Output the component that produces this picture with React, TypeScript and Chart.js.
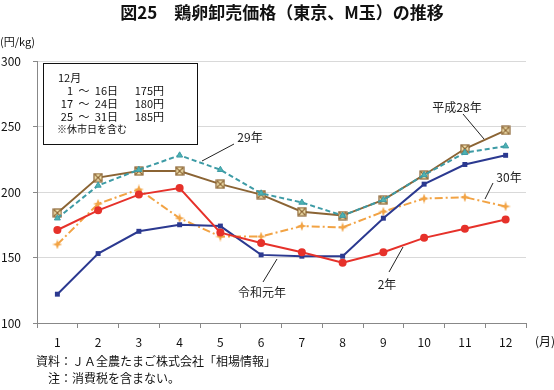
import React, { useEffect, useRef } from "react";
import { Chart, registerables } from "chart.js";
Chart.register(...registerables);

const months = ["1", "2", "3", "4", "5", "6", "7", "8", "9", "10", "11", "12"];
const h28 = [184, 211, 216, 216, 206, 198, 185, 182, 194, 213, 233, 247];
const h29 = [180, 205, 217, 228, 217, 199, 192, 182, 194, 213, 230, 235];
const h30 = [160, 191, 202, 180, 166, 166, 174, 173, 185, 195, 196, 189];
const r1 = [122, 153, 170, 175, 174, 152, 151, 151, 180, 206, 221, 228];
const r2 = [171, 186, 198, 203, 169, 161, 154, 146, 154, 165, 172, 179];
const yTicks = [100, 150, 200, 250, 300];

const FONT = '"Noto Sans CJK JP", "Noto Sans", sans-serif';

function makeXBox(): HTMLCanvasElement {
  const c = document.createElement("canvas");
  c.width = 10;
  c.height = 10;
  const g = c.getContext("2d")!;
  g.fillStyle = "#f7e9b5";
  g.fillRect(1, 1, 8, 8);
  g.strokeStyle = "#8b6434";
  g.lineWidth = 1.2;
  g.strokeRect(1, 1, 8, 8);
  g.beginPath();
  g.moveTo(1.5, 1.5);
  g.lineTo(8.5, 8.5);
  g.moveTo(8.5, 1.5);
  g.lineTo(1.5, 8.5);
  g.stroke();
  return c;
}

function makePlus(): HTMLCanvasElement {
  const c = document.createElement("canvas");
  c.width = 10;
  c.height = 10;
  const g = c.getContext("2d")!;
  g.fillStyle = "#f2a344";
  g.beginPath();
  g.moveTo(5, 0);
  g.lineTo(6.3, 3.7);
  g.lineTo(10, 5);
  g.lineTo(6.3, 6.3);
  g.lineTo(5, 10);
  g.lineTo(3.7, 6.3);
  g.lineTo(0, 5);
  g.lineTo(3.7, 3.7);
  g.closePath();
  g.fill();
  return c;
}

const overlay = {
  id: "overlay",
  afterDraw(chart: any) {
    const ctx = chart.ctx as CanvasRenderingContext2D;
    ctx.save();
    // title
    ctx.fillStyle = "#111";
    ctx.textBaseline = "middle";
    ctx.textAlign = "center";
    ctx.font = `bold 17px ${FONT}`;
    ctx.fillText("図25　鶏卵卸売価格（東京、M玉）の推移", 282, 13);
    // y unit
    ctx.textAlign = "left";
    ctx.font = `11px ${FONT}`;
    ctx.fillText("(円/kg)", 0, 42);
    // x unit
    ctx.font = `12px ${FONT}`;
    ctx.fillText("(月)", 535, 341);
    // source
    ctx.fillText("資料：ＪＡ全農たまご株式会社「相場情報」", 36, 361);
    ctx.fillText("注：消費税を含まない。", 48, 378);

    // box
    ctx.fillStyle = "#fff";
    ctx.fillRect(43, 63, 154, 81);
    ctx.strokeStyle = "#111";
    ctx.lineWidth = 1;
    ctx.strokeRect(43.5, 63.5, 154, 81);
    ctx.fillStyle = "#111";
    ctx.font = `11px ${FONT}`;
    ctx.textAlign = "left";
    ctx.fillText("12月", 58, 78);
    const rows = [
      ["1", "16日", "175円", 91],
      ["17", "24日", "180円", 104],
      ["25", "31日", "185円", 117],
    ];
    rows.forEach((r) => {
      ctx.textAlign = "right";
      ctx.fillText(r[0] as string, 73, r[3] as number);
      ctx.textAlign = "center";
      ctx.fillText("～", 84, r[3] as number);
      ctx.textAlign = "right";
      ctx.fillText(r[1] as string, 118, r[3] as number);
      ctx.fillText(r[2] as string, 164, r[3] as number);
    });
    ctx.textAlign = "left";
    ctx.font = `10px ${FONT}`;
    ctx.fillText("※休市日を含む", 57, 129);

    // annotations
    const lines = [
      [463, 114, 484, 139],
      [234, 144, 202, 161],
      [493, 183, 485, 199],
      [277, 259, 263, 282],
      [403, 247, 389, 272],
    ];
    ctx.strokeStyle = "#222";
    ctx.lineWidth = 1;
    ctx.beginPath();
    lines.forEach((l) => {
      ctx.moveTo(l[0], l[1]);
      ctx.lineTo(l[2], l[3]);
    });
    ctx.stroke();
    ctx.font = `12px ${FONT}`;
    ctx.textAlign = "center";
    ctx.fillStyle = "#222";
    ctx.fillText("平成28年", 457, 107);
    ctx.fillText("29年", 250, 137);
    ctx.fillText("30年", 509, 177);
    ctx.fillText("令和元年", 262, 292);
    ctx.fillText("2年", 387, 284);
    ctx.restore();
  },
};

export default function App() {
  const ref = useRef<HTMLCanvasElement>(null);
  useEffect(() => {
    document.body.style.margin = "0";
    const xbox = makeXBox();
    const plus = makePlus();
    const chart = new Chart(ref.current!, {
      type: "line",
      data: {
        labels: months,
        datasets: [
          {
            label: "2年",
            data: r2,
            borderColor: "#e6312a",
            backgroundColor: "#e6312a",
            borderWidth: 2,
            pointStyle: "circle",
            pointRadius: 4,
            pointBorderWidth: 0,
          },
          {
            label: "令和元年",
            data: r1,
            borderColor: "#2b3990",
            backgroundColor: "#2b3990",
            borderWidth: 2,
            pointStyle: "rect",
            pointRadius: 3.5,
            pointBorderWidth: 0,
          },
          {
            label: "30年",
            data: h30,
            borderColor: "#f2a344",
            backgroundColor: "#f2a344",
            borderWidth: 2,
            borderDash: [8, 3, 2, 3],
            pointStyle: plus as any,
            pointRadius: 4,
          },
          {
            label: "29年",
            data: h29,
            borderColor: "#3d9ba5",
            backgroundColor: "#4db3b3",
            borderWidth: 2,
            borderDash: [5, 3],
            pointStyle: "triangle",
            pointRadius: 3.5,
            pointBorderWidth: 1,
          },
          {
            label: "平成28年",
            data: h28,
            borderColor: "#8b6434",
            backgroundColor: "#f7e9b5",
            borderWidth: 2,
            pointStyle: xbox as any,
            pointRadius: 4,
          },
        ],
      },
      options: {
        responsive: false,
        animation: false,
        events: [],
        layout: { padding: { top: 61, right: 28, left: 0, bottom: 0 } },
        plugins: { legend: { display: false }, tooltip: { enabled: false }, title: { display: false } },
        scales: {
          x: {
            offset: true,
            grid: { offset: true, drawOnChartArea: false, tickLength: 5, color: "#888" },
            border: { color: "#888" },
            ticks: { color: "#111", font: { family: FONT, size: 12 }, padding: 7 },
            afterFit: (s: any) => {
              s.height = 67;
            },
          },
          y: {
            min: 100,
            max: 300,
            afterBuildTicks: (s: any) => {
              s.ticks = yTicks.map((v) => ({ value: v }));
            },
            grid: { color: "#d9d9d9", tickLength: 4, tickColor: "#888" },
            border: { color: "#888" },
            ticks: { color: "#111", font: { family: FONT, size: 12 }, padding: 12 },
            afterFit: (s: any) => {
              s.width = 37;
            },
          },
        },
      },
      plugins: [overlay],
    });
    return () => chart.destroy();
  }, []);
  return (
    <div style={{ width: 554, height: 390 }}>
      <canvas ref={ref} width={554} height={390} />
    </div>
  );
}
